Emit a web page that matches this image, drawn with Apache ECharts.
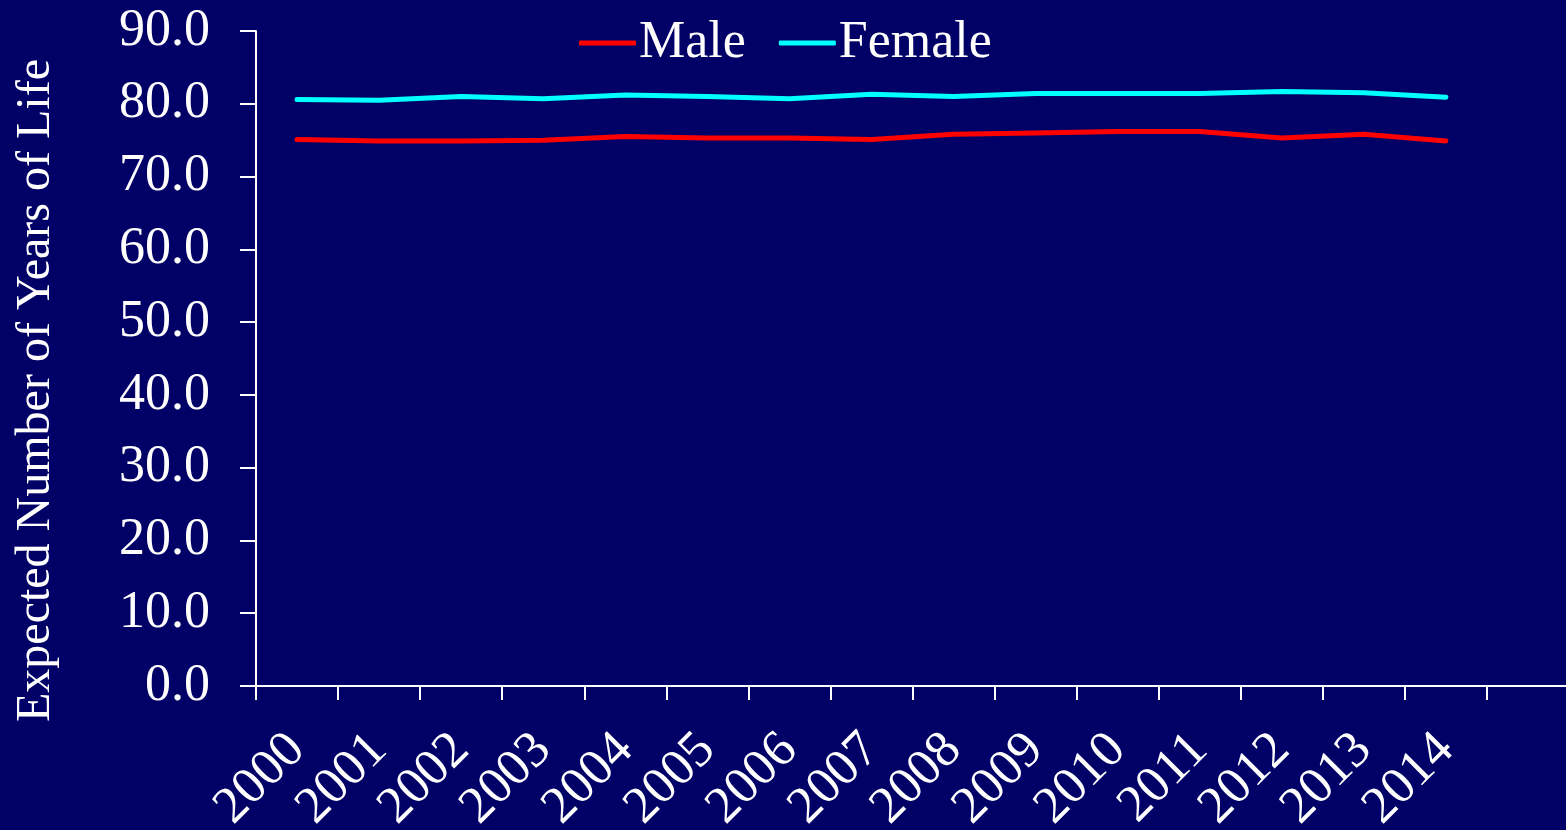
<!DOCTYPE html>
<html>
<head>
<meta charset="utf-8">
<script src="https://cdn.jsdelivr.net/npm/echarts@6/dist/echarts.min.js"></script>
<style>
html,body{margin:0;padding:0;background:#000066;}
#chart{width:1566px;height:830px;}
</style>
</head>
<body>
<div id="chart"></div>
<script>
const years = ['2000','2001','2002','2003','2004','2005','2006','2007','2008','2009','2010','2011','2012','2013','2014',''];
const male = [75.1, 74.9, 74.9, 75.0, 75.5, 75.3, 75.3, 75.1, 75.8, 76.0, 76.2, 76.2, 75.3, 75.8, 74.9];
const female = [80.6, 80.5, 81.0, 80.7, 81.2, 81.0, 80.7, 81.3, 81.0, 81.4, 81.4, 81.4, 81.7, 81.5, 80.9];
const yTicks = {min: 0, max: 90, interval: 10};
const yTitle = 'Expected Number of Years of Life';

const font = 'Liberation Serif';
const chart = echarts.init(document.getElementById('chart'));
chart.setOption({
  backgroundColor: '#000066',
  animation: false,
  textStyle: {fontFamily: font},
  legend: {
    left: 574, top: 12,
    itemWidth: 57, itemHeight: 5, itemGap: 33,
    icon: 'roundRect',
    textStyle: {color: '#ffffff', fontSize: 52, fontFamily: font, padding: [0,0,0,-2]},
    data: ['Male', 'Female']
  },
  grid: {left: 256, top: 31, bottom: 144, width: 1313, containLabel: false, outerBoundsMode: 'none'},
  xAxis: {
    type: 'category',
    data: years,
    boundaryGap: true,
    axisLine: {lineStyle: {color: '#ffffff', width: 2}},
    axisTick: {show: true, length: 14, interval: 0, lineStyle: {color: '#ffffff', width: 2}},
    axisLabel: {color: '#ffffff', fontSize: 52, fontFamily: font, rotate: 45, interval: 0, margin: 56},
    splitLine: {show: false}
  },
  yAxis: {
    type: 'value',
    min: yTicks.min, max: yTicks.max, interval: yTicks.interval,
    name: yTitle,
    nameLocation: 'middle',
    nameGap: 196,
    nameTextStyle: {color: '#ffffff', fontSize: 48, fontFamily: font, padding: [0, 64, 0, 0]},
    axisLine: {show: true, lineStyle: {color: '#ffffff', width: 2}},
    axisTick: {show: true, length: 16, lineStyle: {color: '#ffffff', width: 2}},
    axisLabel: {color: '#ffffff', fontSize: 52, fontFamily: font, margin: 46, formatter: v => v.toFixed(1)},
    splitLine: {show: false}
  },
  series: [
    {name: 'Male', type: 'line', data: male, symbol: 'none', color: '#ff0000',
     lineStyle: {color: '#ff0000', width: 5, cap: 'round', join: 'round'}},
    {name: 'Female', type: 'line', data: female, symbol: 'none', color: '#00ffff',
     lineStyle: {color: '#00ffff', width: 5, cap: 'round', join: 'round'}}
  ]
});
</script>
</body>
</html>
